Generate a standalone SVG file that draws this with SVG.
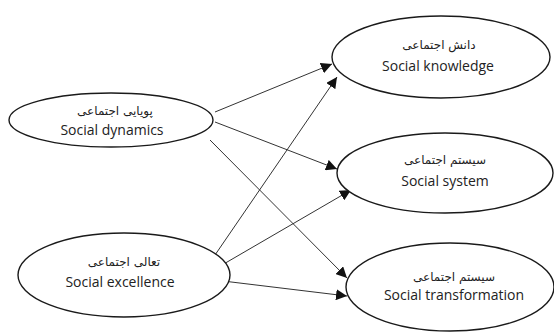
<svg xmlns="http://www.w3.org/2000/svg" width="554" height="333" viewBox="0 0 554 333">
<style>
.node ellipse{fill:#fff;stroke:#1a1a1a;stroke-width:1.4}
.en{font-family:"Open Sans","Liberation Sans",sans-serif;font-size:14px;fill:#222;text-anchor:middle}
.fa{font-family:"DejaVu Sans",sans-serif;font-size:12px;fill:#222;text-anchor:middle}
.edges line{stroke:#333;stroke-width:1;marker-end:url(#arr)}
</style>
<defs>
<marker id="arr" viewBox="0 0 10 10" refX="10" refY="5" markerWidth="11" markerHeight="11" markerUnits="userSpaceOnUse" orient="auto">
<path d="M0,0 L10,5 L0,10 z" fill="#111"/>
</marker>
</defs>
<rect width="554" height="333" fill="#fff"/>
<g class="edges">
<line x1="215" y1="112" x2="332" y2="64"/>
<line x1="215" y1="122" x2="337" y2="169"/>
<line x1="210" y1="140" x2="347" y2="278"/>
<line x1="215" y1="255" x2="337" y2="77"/>
<line x1="222" y1="265" x2="351" y2="190"/>
<line x1="223" y1="281" x2="347" y2="296"/>
</g>
<g id="dynamics" class="node">
<ellipse cx="111" cy="120" rx="102" ry="27"/>
<text class="fa" x="115" y="115">پویایی اجتماعی</text>
<text class="en" x="112" y="135">Social dynamics</text>
</g>
<g id="excellence" class="node">
<ellipse cx="124" cy="275" rx="106" ry="42"/>
<text class="fa" x="124" y="266">تعالی اجتماعی</text>
<text class="en" x="120" y="287">Social excellence</text>
</g>
<g id="knowledge" class="node">
<ellipse cx="441" cy="57" rx="109" ry="41"/>
<text class="fa" x="439" y="49">دانش اجتماعی</text>
<text class="en" x="438" y="71">Social knowledge</text>
</g>
<g id="system" class="node">
<ellipse cx="445" cy="173" rx="108" ry="40"/>
<text class="fa" x="445" y="164">سیستم اجتماعی</text>
<text class="en" x="445" y="186">Social system</text>
</g>
<g id="transformation" class="node">
<ellipse cx="450" cy="287" rx="104" ry="44"/>
<text class="fa" x="454" y="281">سیستم اجتماعی</text>
<text class="en" x="454" y="300">Social transformation</text>
</g>
</svg>
